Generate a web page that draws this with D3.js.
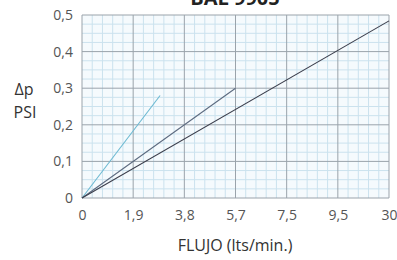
<!DOCTYPE html>
<html>
<head>
<meta charset="utf-8">
<script src="https://cdn.jsdelivr.net/npm/d3@7"></script>
<style>
  body { margin: 0; background: #fff; }
  svg { font-family: "Open Sans", sans-serif; }
</style>
</head>
<body>
<svg id="chart" width="397" height="260"></svg>
<script>
// tick positions (flow) and the labels printed under them
let xTicks = [0, 1.9, 3.8, 5.7, 7.5, 9.5, 11.4];
let xLabels = ["0", "1,9", "3,8", "5,7", "7,5", "9,5", "30"];
let yTicks = [0, 0.1, 0.2, 0.3, 0.4, 0.5];

// curves: [flow, psi]
let lineA = [[0, 0], [2.9, 0.28]];
let lineB = [[0, 0], [5.7, 0.3]];
let lineC = [[0, 0], [11.4, 0.484]];
let lineColors = ["#6cb9d2", "#5d6b80", "#3b3e4c"];

let svg = d3.select("#chart");
let margin = {left: 82, right: 8, top: 15, bottom: 62};
let width = 397, height = 260;

let step = (width - margin.right - margin.left) / (xTicks.length - 1);
let x = d3.scaleLinear()
    .domain(xTicks)
    .range(xTicks.map((d, i) => margin.left + i * step));
let y = d3.scaleLinear().domain([0, 0.5]).range([height - margin.bottom, margin.top]);

// plot background
svg.append("rect")
    .attr("x", x(0)).attr("y", y(0.5))
    .attr("width", x(11.4) - x(0)).attr("height", y(0) - y(0.5))
    .attr("fill", "#f5fafd");

// minor grid
let minorX = [];
for (let i = 0; i < xTicks.length - 1; i++) {
    for (let k = 1; k < 5; k++) minorX.push(xTicks[i] + (xTicks[i + 1] - xTicks[i]) * k / 5);
}
let minorY = d3.range(0, 20).map(i => i * 0.025).filter((d, i) => i % 4 !== 0);

let grid = svg.append("g");
grid.selectAll(".mx").data(minorX).enter().append("line")
    .attr("x1", d => x(d)).attr("x2", d => x(d))
    .attr("y1", y(0)).attr("y2", y(0.5))
    .attr("stroke", "#cbe2ee").attr("stroke-width", 1);
grid.selectAll(".my").data(minorY).enter().append("line")
    .attr("x1", x(0)).attr("x2", x(11.4))
    .attr("y1", d => y(d)).attr("y2", d => y(d))
    .attr("stroke", "#cbe2ee").attr("stroke-width", 1);

// major grid
grid.selectAll(".Mx").data(xTicks).enter().append("line")
    .attr("x1", d => x(d)).attr("x2", d => x(d))
    .attr("y1", y(0)).attr("y2", y(0.5))
    .attr("stroke", "#9aa3ab").attr("stroke-width", 1);
grid.selectAll(".My").data(yTicks).enter().append("line")
    .attr("x1", x(0)).attr("x2", x(11.4))
    .attr("y1", d => y(d)).attr("y2", d => y(d))
    .attr("stroke", "#9aa3ab").attr("stroke-width", 1);

// axes labels
let xAxis = d3.axisBottom(x).tickValues(xTicks)
    .tickFormat((d, i) => xLabels[i]).tickSize(0).tickPadding(12);
let gx = svg.append("g").attr("transform", `translate(0,${y(0)})`).call(xAxis);
gx.select(".domain").remove();
gx.selectAll("text").attr("font-size", 14).attr("fill", "#555")
    .attr("font-family", "Open Sans, sans-serif");

let yAxis = d3.axisLeft(y).tickValues(yTicks)
    .tickFormat(d => d === 0 ? "0" : d3.format(".1f")(d).replace(".", ","))
    .tickSize(0).tickPadding(9);
let gy = svg.append("g").attr("transform", `translate(${x(0)},0)`).call(yAxis);
gy.select(".domain").remove();
gy.selectAll("text").attr("font-size", 14).attr("fill", "#555")
    .attr("font-family", "Open Sans, sans-serif");

// curves
let line = d3.line().x(d => x(d[0])).y(d => y(d[1]));
svg.selectAll(".curve").data([lineA, lineB, lineC]).enter().append("path")
    .attr("d", line)
    .attr("fill", "none")
    .attr("stroke", (d, i) => lineColors[i])
    .attr("stroke-width", 1.1);

// titles
svg.append("text").attr("x", 235).attr("y", 5)
    .attr("text-anchor", "middle").attr("font-size", 20).attr("font-weight", "bold")
    .attr("fill", "#222").text("BAL 9905");

svg.append("text").attr("x", 235).attr("y", 251)
    .attr("text-anchor", "middle").attr("font-size", 16).attr("fill", "#333")
    .text("FLUJO (lts/min.)");

svg.append("text").attr("x", 24).attr("y", 95)
    .attr("text-anchor", "middle").attr("font-size", 16).attr("fill", "#333").text("Δp");
svg.append("text").attr("x", 25).attr("y", 118)
    .attr("text-anchor", "middle").attr("font-size", 16).attr("fill", "#333").text("PSI");
</script>
</body>
</html>
